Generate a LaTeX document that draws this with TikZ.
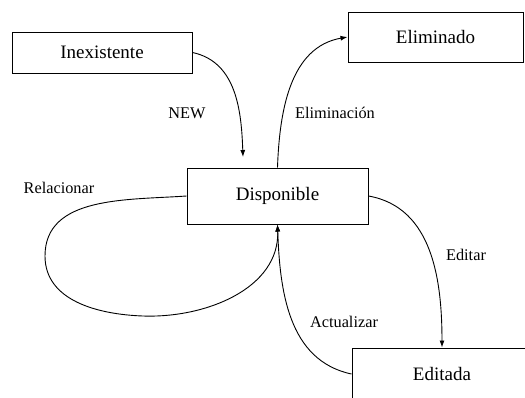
\documentclass[tikz,border=0pt]{standalone}
\usepackage{fontspec}
\setmainfont{Liberation Serif}
\usetikzlibrary{arrows.meta}
\begin{document}
\begin{tikzpicture}[x=1pt,y=-1pt,
  state/.style={draw,line width=1pt,rectangle,inner sep=0pt,
    font=\fontsize{19}{21}\selectfont},
  trans/.style={line width=0.9pt,-{Latex[length=7pt,width=5pt]}},
  lbl/.style={inner sep=0pt,font=\fontsize{16.3}{18}\selectfont}]
\useasboundingbox (0,0) rectangle (525,397);
% states
\node[state,minimum width=180pt,minimum height=41pt] (inex) at (102,52.5) {Inexistente};
\node[state,minimum width=175pt,minimum height=50pt] (elim) at (435.5,37) {Eliminado};
\node[state,minimum width=181pt,minimum height=56pt] (disp) at (277.5,196) {Disponible};
\node[state,minimum width=180pt,minimum height=52pt] (edit) at (442,374) {Editada};
\coordinate (newend) at (243,157);
\coordinate (loopleft) at (45,256);
\coordinate (loopbottom) at (143,316);
% transitions
\draw[trans] (inex.east) to[out=-12,in=92] (newend);
\draw[trans] (disp.north) to[out=88,in=190] (elim.west);
\draw[trans] (disp.west) to[out=184,in=90] (loopleft)
  to[out=-90,in=178] (loopbottom) to[out=-2,in=-88] (disp.south);
\draw[trans] (edit.west) to[out=168,in=-88] (disp.south);
\draw[trans] (disp.east) to[out=-10,in=90] (edit.north);
% labels
\node[lbl] (lnew) at (187,113) {NEW};
\node[lbl] (lelim) at (335,113) {Eliminación};
\node[lbl] (lrel) at (59,188) {Relacionar};
\node[lbl] (ledit) at (466,255) {Editar};
\node[lbl] (lact) at (344,322) {Actualizar};
\end{tikzpicture}
\end{document}
